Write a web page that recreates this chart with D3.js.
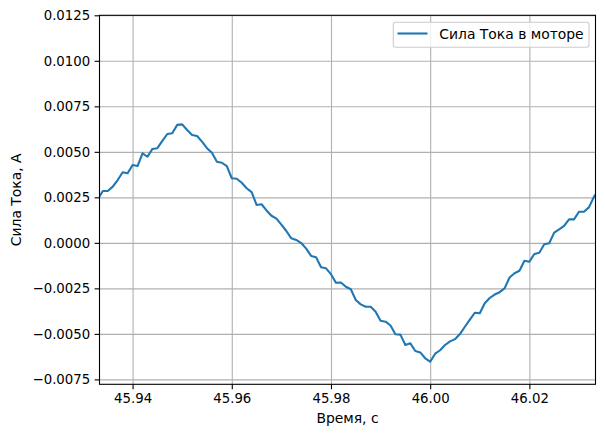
<!DOCTYPE html>
<html>
<head>
<meta charset="utf-8">
<script src="https://cdn.jsdelivr.net/npm/d3@7"></script>
<style>
  body { margin: 0; background: #fff; }
  text { font-family: "DejaVu Sans", sans-serif; fill: #000; }
  .grid-line line { stroke: #b0b0b0; stroke-width: 1.1; }
</style>
</head>
<body>
<script>
// time samples, s
const time = [
  45.933, 45.934, 45.935, 45.936, 45.937, 45.938, 45.939, 45.940, 45.941, 45.942,
  45.943, 45.944, 45.945, 45.946, 45.947, 45.948, 45.949, 45.950, 45.951, 45.952,
  45.953, 45.954, 45.955, 45.956, 45.957, 45.958, 45.959, 45.960, 45.961, 45.962,
  45.963, 45.964, 45.965, 45.966, 45.967, 45.968, 45.969, 45.970, 45.971, 45.972,
  45.973, 45.974, 45.975, 45.976, 45.977, 45.978, 45.979, 45.980, 45.981, 45.982,
  45.983, 45.984, 45.985, 45.986, 45.987, 45.988, 45.989, 45.990, 45.991, 45.992,
  45.993, 45.994, 45.995, 45.996, 45.997, 45.998, 45.999, 46.000, 46.001, 46.002,
  46.003, 46.004, 46.005, 46.006, 46.007, 46.008, 46.009, 46.010, 46.011, 46.012,
  46.013, 46.014, 46.015, 46.016, 46.017, 46.018, 46.019, 46.020, 46.021, 46.022,
  46.023, 46.024, 46.025, 46.026, 46.027, 46.028, 46.029, 46.030, 46.031, 46.032,
  46.033, 46.034
]

// motor current, A
const current = [
  0.00241, 0.00285, 0.00285, 0.00309, 0.00345, 0.00388, 0.00382, 0.00428, 0.00422, 0.00492,
  0.00473, 0.00516, 0.00520, 0.00560, 0.00598, 0.00602, 0.00648, 0.00651, 0.00620, 0.00593,
  0.00587, 0.00556, 0.00520, 0.00495, 0.00446, 0.00440, 0.00421, 0.00355, 0.00352, 0.00330,
  0.00300, 0.00279, 0.00208, 0.00212, 0.00178, 0.00149, 0.00133, 0.00100, 0.00065, 0.00025,
  0.00016, -0.00001, -0.00032, -0.00072, -0.00079, -0.00134, -0.00140, -0.00172, -0.00219, -0.00218,
  -0.00241, -0.00255, -0.00314, -0.00338, -0.00351, -0.00351, -0.00378, -0.00428, -0.00433, -0.00454,
  -0.00502, -0.00504, -0.00561, -0.00552, -0.00594, -0.00602, -0.00634, -0.00653, -0.00609, -0.00590,
  -0.00561, -0.00541, -0.00529, -0.00501, -0.00461, -0.00422, -0.00384, -0.00387, -0.00332, -0.00303,
  -0.00284, -0.00271, -0.00250, -0.00190, -0.00167, -0.00153, -0.00098, -0.00104, -0.00061, -0.00054,
  -0.00008, -0.00002, 0.00056, 0.00074, 0.00093, 0.00129, 0.00129, 0.00171, 0.00171, 0.00195,
  0.00252, 0.00290
]

const xTicks = [45.94, 45.96, 45.98, 46.00, 46.02]
const yTicks = [-0.0075, -0.0050, -0.0025, 0.0000, 0.0025, 0.0050, 0.0075, 0.0100, 0.0125]
const xDomain = [45.93333, 46.03333]
const yDomain = [-0.00777, 0.0125]

const seriesName = "Сила Тока в моторе"
const xLabel = "Время, с"
const yLabel = "Сила Тока, А"

const width = 605
const height = 438
const margin = { top: 15.3, right: 9.5, bottom: 53.7, left: 99.5 }
const tickFont = 13.3
const labelFont = 13.9

const svg = d3.select("body")
  .append("svg")
  .attr("width", width)
  .attr("height", height)

svg.append("rect")
  .attr("width", width)
  .attr("height", height)
  .attr("fill", "#fff")

const xScale = d3.scaleLinear()
  .domain(xDomain)
  .range([margin.left, width - margin.right])

const yScale = d3.scaleLinear()
  .domain(yDomain)
  .range([height - margin.bottom, margin.top])

const plotW = width - margin.left - margin.right
const plotH = height - margin.top - margin.bottom

// grid lines
svg.append("g")
  .attr("class", "grid-line")
  .attr("transform", `translate(0,${margin.top})`)
  .call(d3.axisBottom(xScale).tickValues(xTicks).tickSize(plotH).tickFormat(""))
  .call(g => g.select(".domain").remove())

svg.append("g")
  .attr("class", "grid-line")
  .attr("transform", `translate(${margin.left},0)`)
  .call(d3.axisRight(yScale).tickValues(yTicks).tickSize(plotW).tickFormat(""))
  .call(g => g.select(".domain").remove())

// data line, clipped to the axes box
svg.append("clipPath")
  .attr("id", "plot-clip")
  .append("rect")
  .attr("x", margin.left)
  .attr("y", margin.top)
  .attr("width", plotW)
  .attr("height", plotH)

const line = d3.line()
  .x((d, i) => xScale(time[i]))
  .y(d => yScale(d))

svg.append("path")
  .datum(current)
  .attr("clip-path", "url(#plot-clip)")
  .attr("fill", "none")
  .attr("stroke", "#1f77b4")
  .attr("stroke-width", 2.1)
  .attr("stroke-linejoin", "round")
  .attr("stroke-linecap", "square")
  .attr("d", line)

// axes
const xAxis = svg.append("g")
  .attr("transform", `translate(0,${height - margin.bottom})`)
  .call(d3.axisBottom(xScale).tickValues(xTicks).tickSize(4.9).tickPadding(4.4).tickFormat(d3.format(".2f")))
xAxis.select(".domain").remove()

const yAxis = svg.append("g")
  .attr("transform", `translate(${margin.left},0)`)
  .call(d3.axisLeft(yScale).tickValues(yTicks).tickSize(4.9).tickPadding(4.4).tickFormat(d3.format(".4f")))
yAxis.select(".domain").remove()

svg.selectAll(".tick line").attr("stroke", "#000").attr("stroke-width", 1.1)
svg.selectAll(".tick text")
  .attr("font-size", tickFont)
  .attr("font-family", "DejaVu Sans")
  .attr("fill", "#000")

// spines
svg.append("rect")
  .attr("x", margin.left)
  .attr("y", margin.top)
  .attr("width", plotW)
  .attr("height", plotH)
  .attr("fill", "none")
  .attr("stroke", "#000")
  .attr("stroke-width", 1.1)

// axis labels
svg.append("text")
  .attr("x", margin.left + plotW / 2)
  .attr("y", 423)
  .attr("text-anchor", "middle")
  .attr("font-size", labelFont)
  .text(xLabel)

svg.append("text")
  .attr("transform", `translate(21,${margin.top + plotH / 2}) rotate(-90)`)
  .attr("text-anchor", "middle")
  .attr("font-size", labelFont)
  .text(yLabel)

// legend
const legend = svg.append("g")
legend.append("rect")
  .attr("x", 393.3)
  .attr("y", 22.3)
  .attr("width", 195.7)
  .attr("height", 25)
  .attr("rx", 2.5)
  .attr("fill", "#fff")
  .attr("fill-opacity", 0.8)
  .attr("stroke", "#cccccc")
  .attr("stroke-width", 1.1)
legend.append("line")
  .attr("x1", 397.5)
  .attr("x2", 427.5)
  .attr("y1", 33.5)
  .attr("y2", 33.5)
  .attr("stroke", "#1f77b4")
  .attr("stroke-width", 2.1)
legend.append("text")
  .attr("x", 439.3)
  .attr("y", 39.3)
  .attr("font-size", labelFont)
  .text(seriesName)
</script>
</body>
</html>
